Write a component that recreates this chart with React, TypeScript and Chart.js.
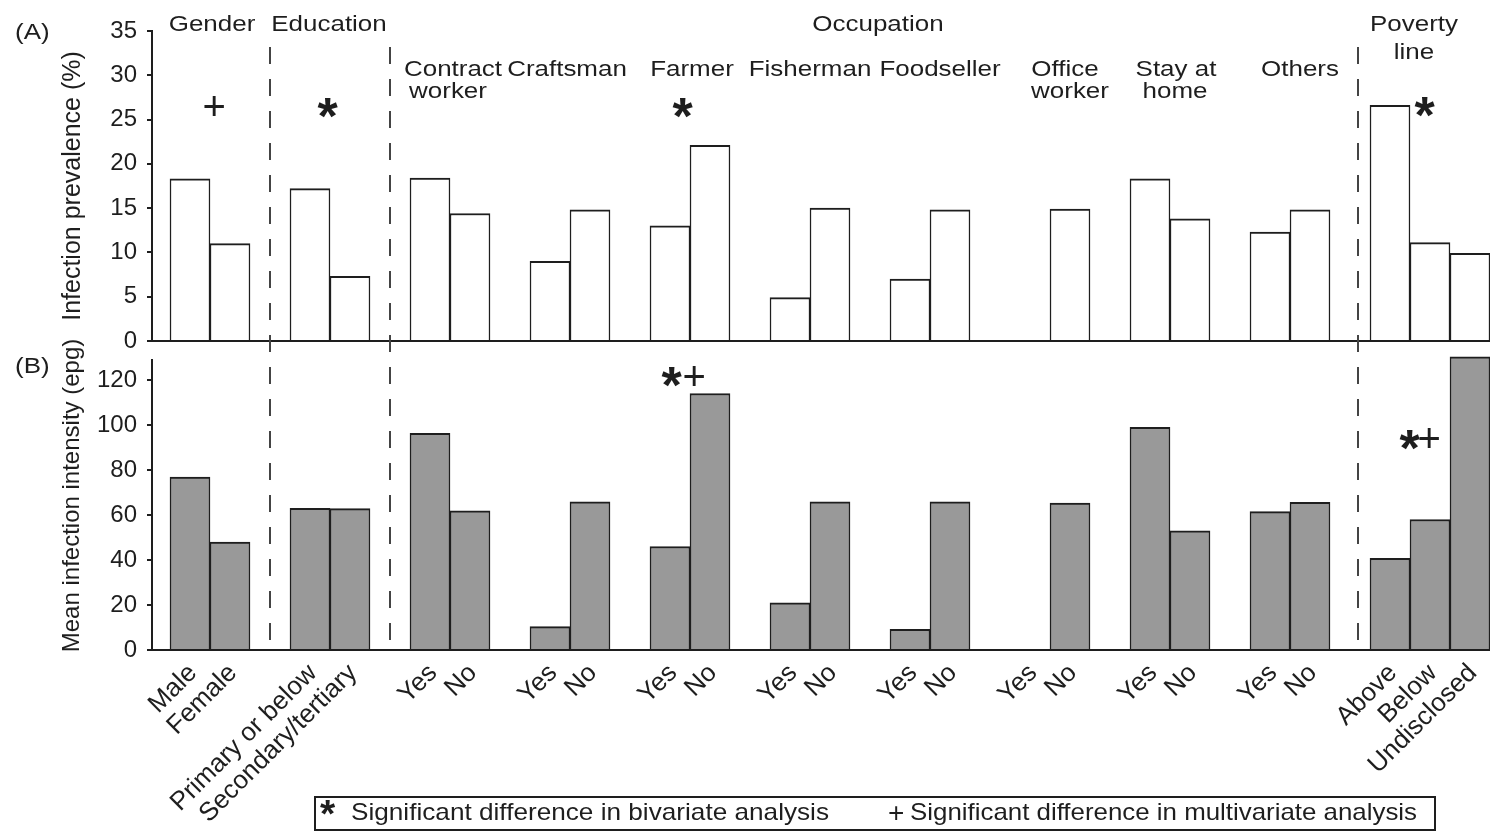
import React, { useEffect, useRef } from 'react';
import { Chart, registerables } from 'chart.js';

Chart.register(...registerables);

const FONT = '"Liberation Sans", Arial, Helvetica, sans-serif';
const INK = '#1e1e1e';

// ---- data ----
const xLabels: string[] = [
  'Male', 'Female', '',
  'Primary or below', 'Secondary/tertiary', '',
  'Yes', 'No', '',
  'Yes', 'No', '',
  'Yes', 'No', '',
  'Yes', 'No', '',
  'Yes', 'No', '',
  'Yes', 'No', '',
  'Yes', 'No', '',
  'Yes', 'No', '',
  'Above', 'Below', 'Undisclosed',
];

const prevalence: (number | null)[] = [
  18.3, 11.0, null,
  17.2, 7.3, null,
  18.4, 14.4, null,
  9.0, 14.8, null,
  13.0, 22.1, null,
  4.9, 15.0, null,
  7.0, 14.8, null,
  0, 14.9, null,
  18.3, 13.8, null,
  12.3, 14.8, null,
  26.6, 11.1, 9.9,
];

const intensity: (number | null)[] = [
  76.8, 48.0, null,
  63.0, 62.8, null,
  96.3, 61.8, null,
  10.4, 65.8, null,
  46.0, 114.0, null,
  21.0, 65.8, null,
  9.2, 65.8, null,
  0, 65.3, null,
  99.0, 53.0, null,
  61.5, 65.6, null,
  40.7, 58.0, 130.3,
];

const prevalenceTicks = [0, 5, 10, 15, 20, 25, 30, 35];
const intensityTicks = [0, 20, 40, 60, 80, 100, 120];

// group headings (x in slot units, y in prevalence units)
const groupLabels = [
  { text: 'Gender', x: 0.55, y: 35.7 },
  { text: 'Education', x: 3.475, y: 35.7 },
  { text: 'Occupation', x: 17.2, y: 35.7 },
  { text: 'Poverty', x: 30.6, y: 35.7 },
  { text: 'line', x: 30.6, y: 32.55 },
  { text: 'Contract', x: 6.575, y: 30.6 },
  { text: 'worker', x: 6.45, y: 28.1 },
  { text: 'Craftsman', x: 9.425, y: 30.6 },
  { text: 'Farmer', x: 12.55, y: 30.6 },
  { text: 'Fisherman', x: 15.5, y: 30.6 },
  { text: 'Foodseller', x: 18.75, y: 30.6 },
  { text: 'Office', x: 21.875, y: 30.6 },
  { text: 'worker', x: 22.0, y: 28.1 },
  { text: 'Stay at', x: 24.65, y: 30.6 },
  { text: 'home', x: 24.625, y: 28.1 },
  { text: 'Others', x: 27.75, y: 30.6 },
];

// significance marks
const marks = [
  { text: '+', x: 0.625, y: 26.5, axis: 'yA' },
  { text: '*', x: 3.45, y: 26.3, axis: 'yA' },
  { text: '*', x: 12.325, y: 26.3, axis: 'yA' },
  { text: '*', x: 30.875, y: 26.4, axis: 'yA' },
  { text: '*', x: 12.05, y: 121.3, axis: 'yB' },
  { text: '+', x: 12.625, y: 121.6, axis: 'yB' },
  { text: '*', x: 30.5, y: 93.3, axis: 'yB' },
  { text: '+', x: 31.0, y: 94.0, axis: 'yB' },
];

const dividers = [2, 5, 29.2];
const dividerTop = 33.2; // prevalence units
const intensityAxisTop = 129.3;

const legendItems = [
  { symbol: '*', text: 'Significant difference in bivariate analysis' },
  { symbol: '+', text: 'Significant difference in multivariate analysis' },
];

const SX = 1.18;

function drawStretched(ctx: CanvasRenderingContext2D, text: string, px: number, py: number, size: number, align: CanvasTextAlign = 'center') {
  ctx.save();
  ctx.font = `${size}px ${FONT}`;
  ctx.textBaseline = 'middle';
  ctx.textAlign = align;
  ctx.translate(px, py);
  ctx.scale(SX, 1);
  ctx.fillText(text, 0, 0);
  ctx.restore();
}

function drawSymbol(ctx: CanvasRenderingContext2D, text: string, px: number, py: number, scale = 1) {
  ctx.save();
  const isStar = text === '*';
  ctx.font = isStar ? `bold ${Math.round(52 * scale)}px ${FONT}` : `${Math.round(40 * scale)}px ${FONT}`;
  ctx.textAlign = 'left';
  ctx.textBaseline = 'alphabetic';
  const m = ctx.measureText(text);
  const dx = px - (m.actualBoundingBoxRight - m.actualBoundingBoxLeft) / 2 + m.actualBoundingBoxLeft;
  const dy = py + (m.actualBoundingBoxAscent - m.actualBoundingBoxDescent) / 2;
  ctx.fillText(text, dx, dy);
  ctx.restore();
}

function drawFitted(ctx: CanvasRenderingContext2D, text: string, left: number, py: number, size: number, width: number) {
  ctx.save();
  ctx.font = `${size}px ${FONT}`;
  ctx.textAlign = 'left';
  ctx.textBaseline = 'middle';
  const w = ctx.measureText(text).width;
  ctx.translate(left, py);
  ctx.scale(width / w, 1);
  ctx.fillText(text, 0, 0);
  ctx.restore();
}

const overlay = {
  id: 'overlay',
  afterDraw(chart: any) {
    const { ctx, chartArea, scales } = chart;
    const x = scales.x;
    const yA = scales.yA;
    const yB = scales.yB;
    const line = (x1: number, y1: number, x2: number, y2: number) => {
      ctx.beginPath();
      ctx.moveTo(x1, y1);
      ctx.lineTo(x2, y2);
      ctx.stroke();
    };
    ctx.save();
    ctx.strokeStyle = INK;
    ctx.lineWidth = 2;
    // panel A baseline
    const a0 = yA.getPixelForValue(0);
    line(chartArea.left - 1, a0, chartArea.right, a0);
    // panel B y-axis line
    line(chartArea.left, yB.getPixelForValue(intensityAxisTop), chartArea.left, yB.getPixelForValue(0));
    // dashed dividers
    ctx.strokeStyle = '#444';
    ctx.setLineDash([17, 15]);
    for (const d of dividers) {
      const px = Math.round(x.getPixelForValue(d));
      line(px, yA.getPixelForValue(dividerTop), px, yB.getPixelForValue(0));
    }
    ctx.setLineDash([]);
    ctx.fillStyle = INK;
    // group headings
    for (const g of groupLabels) {
      drawStretched(ctx, g.text, x.getPixelForValue(g.x), yA.getPixelForValue(g.y), 22);
    }
    // significance marks
    for (const m of marks) {
      const ys = m.axis === 'yA' ? yA : yB;
      drawSymbol(ctx, m.text, x.getPixelForValue(m.x), ys.getPixelForValue(m.y));
    }
    // panel letters
    drawStretched(ctx, '(A)', 15, yA.getPixelForValue(prevalenceTicks[prevalenceTicks.length - 1]) + 2, 22, 'left');
    drawStretched(ctx, '(B)', 15, yB.getPixelForValue(intensityAxisTop) + 8, 22, 'left');
    // legend box
    ctx.strokeStyle = INK;
    ctx.lineWidth = 2;
    ctx.strokeRect(315, 797, 1120, 33);
    const cy = 813.5;
    drawSymbol(ctx, legendItems[0].symbol, 328, cy - 6, 0.75);
    drawFitted(ctx, legendItems[0].text, 351, cy, 24, 478);
    drawSymbol(ctx, legendItems[1].symbol, 897, cy - 1, 0.7);
    drawFitted(ctx, legendItems[1].text, 910, cy, 24, 507);
    ctx.restore();
  },
};

export default function App() {
  const ref = useRef<HTMLCanvasElement | null>(null);
  useEffect(() => {
    if (!ref.current) return;
    Chart.defaults.font.family = FONT;
    Chart.defaults.color = INK;
    const barBorder = { top: 2, left: 1.5, right: 1.5, bottom: 0 };
    const chart = new Chart(ref.current, {
      type: 'bar',
      data: {
        datasets: [
          {
            label: 'Infection prevalence (%)',
            data: prevalence.map((v, i) => ({ x: i, y: v })) as any,
            yAxisID: 'yA',
            backgroundColor: '#ffffff',
            borderColor: INK,
            borderWidth: barBorder as any,
            grouped: false,
            barPercentage: 1,
            categoryPercentage: 1,
          },
          {
            label: 'Mean infection intensity (epg)',
            data: intensity.map((v, i) => ({ x: i, y: v })) as any,
            yAxisID: 'yB',
            backgroundColor: '#999999',
            borderColor: INK,
            borderWidth: barBorder as any,
            grouped: false,
            barPercentage: 1,
            categoryPercentage: 1,
          },
        ],
      },
      options: {
        responsive: false,
        animation: false,
        layout: { padding: { top: 31, left: 54, right: 0, bottom: 0 } },
        plugins: { legend: { display: false }, tooltip: { enabled: false } },
        scales: {
          x: {
            type: 'linear',
            offset: false,
            min: -0.95,
            max: 32.5,
            afterBuildTicks: (s: any) => {
              s.ticks = xLabels.map((_, i) => ({ value: i }));
            },
            ticks: {
              autoSkip: false,
              minRotation: 45,
              maxRotation: 45,
              padding: 8,
              labelOffset: 3,
              font: { size: 26 },
              color: INK,
              callback: (v: any) => xLabels[Math.round(Number(v))] ?? '',
            },
            grid: { display: false, drawTicks: false, offset: false },
            border: { display: true, color: INK, width: 2 },
            afterFit: (s: any) => {
              s.height = 182;
              s.paddingLeft = 0;
              s.paddingRight = 0;
            },
          },
          yB: {
            type: 'linear',
            position: 'left',
            stack: 'panels',
            stackWeight: 309,
            weight: 0,
            min: 0,
            max: 137.33,
            afterBuildTicks: (s: any) => {
              s.ticks = intensityTicks.map((v) => ({ value: v }));
            },
            ticks: { font: { size: 24 }, color: INK, padding: 10, autoSkip: false },
            grid: { drawOnChartArea: false, drawTicks: true, tickLength: 5, color: INK, lineWidth: 2 },
            border: { display: false },
            title: {
              display: true,
              text: 'Mean infection intensity (epg)',
              font: { size: 24 },
              color: INK,
              padding: { top: 4, bottom: 4 },
            },
            afterFit: (s: any) => {
              s.width = 98;
            },
          },
          yA: {
            type: 'linear',
            position: 'left',
            stack: 'panels',
            stackWeight: 310,
            weight: 1,
            min: 0,
            max: 35,
            afterBuildTicks: (s: any) => {
              s.ticks = prevalenceTicks.map((v) => ({ value: v }));
            },
            ticks: { font: { size: 24 }, color: INK, padding: 10, autoSkip: false },
            grid: { drawOnChartArea: false, drawTicks: true, tickLength: 5, color: INK, lineWidth: 2 },
            border: { display: true, color: INK, width: 2 },
            title: {
              display: true,
              text: 'Infection prevalence (%)',
              font: { size: 25 },
              color: INK,
              padding: { top: 4, bottom: 4 },
            },
            afterFit: (s: any) => {
              s.width = 98;
            },
          },
        },
      } as any,
      plugins: [overlay],
    });
    return () => chart.destroy();
  }, []);
  return (
    <div style={{ position: 'absolute', left: 0, top: 0, width: 1490, height: 832, background: '#fff' }}>
      <canvas ref={ref} width={1490} height={832} style={{ display: 'block' }} />
    </div>
  );
}
